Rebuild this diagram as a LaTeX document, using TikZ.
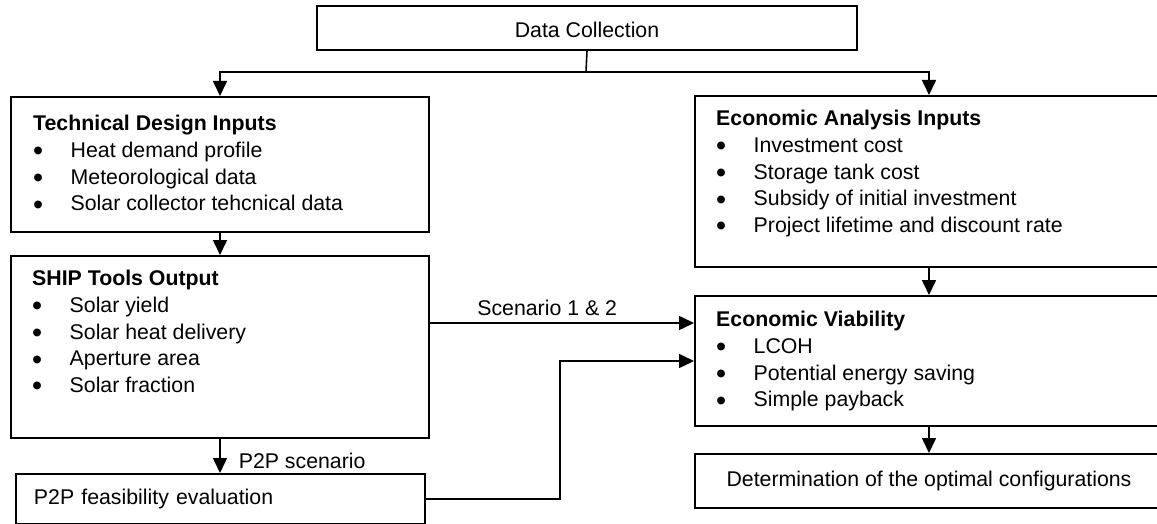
\documentclass[tikz,border=0pt]{standalone}
\usepackage{fontspec}
\setmainfont{Liberation Sans}
\usetikzlibrary{arrows.meta}
\newcommand{\bitem}{\makebox[37.5pt][l]{\raisebox{-0.16em}{\scalebox{1.35}{\textbullet}}}}
\begin{document}
\begin{tikzpicture}[x=1pt,y=-1pt,
  every node/.style={font=\fontsize{21.3}{26.7}\selectfont},
  box/.style={draw, line width=2pt, inner sep=0pt, anchor=north west},
  list/.style={inner sep=0pt, anchor=north west, align=left},
  line/.style={line width=1.6pt},
  arr/.style={line width=1.6pt, -{Triangle[length=15pt,width=14pt]}},
  lbl/.style={inner sep=0pt}]
\clip (0,0) rectangle (1157,524);
\fill[white] (0,0) rectangle (1157,524);
% boxes
\node[box, minimum width=540pt, minimum height=44pt, text height=20pt, text depth=0pt] (dc) at (316,5) {Data Collection};
\node[box, minimum width=418pt, minimum height=135pt] (tech) at (10,96) {};
\node[box, minimum width=418pt, minimum height=182pt] (ship) at (10,255) {};
\node[box, minimum width=409pt, minimum height=50pt, text width=373pt, inner xsep=18pt, align=left] (p2p) at (15,473) {P2P feasibility evaluation};
\node[box, minimum width=468pt, minimum height=171pt] (econ) at (694,95) {};
\node[box, minimum width=468pt, minimum height=130pt] (ev) at (694,295) {};
\node[box, minimum width=468pt, minimum height=54pt] (det) at (694,453) {Determination of the optimal configurations};
% box contents
\node[list] (techtxt) at (33,115) {\textbf{Technical Design Inputs}\\
  \bitem Heat demand profile\\
  \bitem Meteorological data\\
  \bitem Solar collector tehcnical data};
\node[list] (shiptxt) at (32,270) {\textbf{SHIP Tools Output}\\
  \bitem Solar yield\\
  \bitem Solar heat delivery\\
  \bitem Aperture area\\
  \bitem Solar fraction};
\node[list] (econtxt) at (716,110) {\textbf{Economic Analysis Inputs}\\
  \bitem Investment cost\\
  \bitem Storage tank cost\\
  \bitem Subsidy of initial investment\\
  \bitem Project lifetime and discount rate};
\node[list] (evtxt) at (716,311) {\textbf{Economic Viability}\\
  \bitem LCOH\\
  \bitem Potential energy saving\\
  \bitem Simple payback};
% connectors
\coordinate (split) at (586,72);
\coordinate (scen) at (0,323);
\coordinate (bend) at (560,0);
\draw[line] (dc.south) -- (split);
\draw[arr] (split) -| (tech.north);
\draw[arr] (split) -| (econ.north);
\draw[arr] (tech.south) -- (ship.north);
\draw[arr] (econ.south) -- (ev.north);
\draw[arr] (ev.south) -- (det.north);
\draw[arr] (ship.south) -- (ship.south |- p2p.north)
  node[lbl, anchor=base west, pos=0.88, xshift=18pt] {P2P scenario};
\draw[arr] (ship.east |- scen) -- (ev.west |- scen)
  node[lbl, anchor=base, pos=0.444, yshift=7.5pt] {Scenario 1 \& 2};
\draw[arr] (p2p.east) -| (bend |- ev.west) -- (ev.west);
\end{tikzpicture}
\end{document}
